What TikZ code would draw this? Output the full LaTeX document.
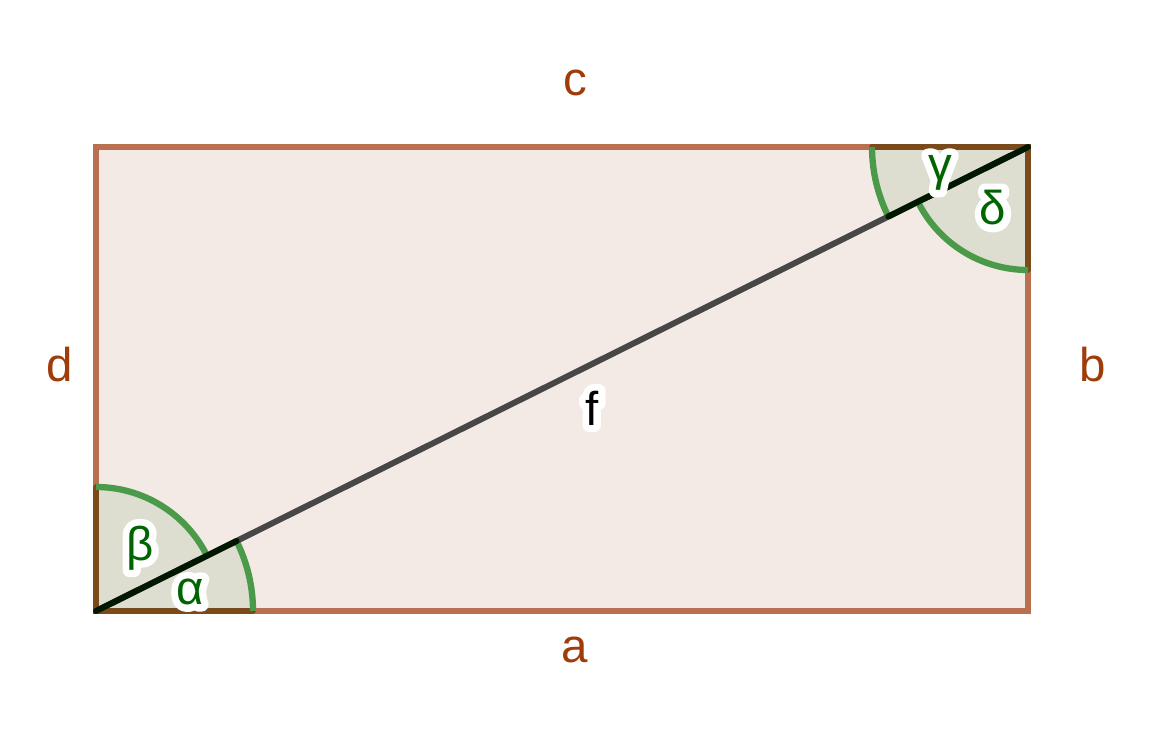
\documentclass[tikz,border=0pt]{standalone}
\usepackage{fontspec}
\setmainfont{Liberation Sans}
\usepackage{tikz}
\usetikzlibrary{calc,positioning}
\newcommand\halotext[1]{\special{pdf:literal direct q 1 Tr 4 w 1 j 1 1 1 RG}\rlap{#1}\special{pdf:literal direct Q}#1}
\definecolor{edgebrown}{RGB}{184,112,80}
\definecolor{rectfill}{RGB}{243,234,229}
\definecolor{sectfill}{RGB}{221,221,208}
\definecolor{arcgreen}{RGB}{74,154,74}
\definecolor{darkedge}{RGB}{122,74,26}
\definecolor{labbrown}{RGB}{160,60,10}
\definecolor{laggreen}{RGB}{0,100,0}
\tikzset{
  side/.style={line width=1.6pt,draw=edgebrown,line cap=round},
  sidedark/.style={line width=1.6pt,draw=darkedge,line cap=round},
  sector/.style={fill=sectfill},
  anglearc/.style={line width=1.8pt,draw=arcgreen},
  diag/.style={line width=1.7pt,draw=black!72,line cap=round},
  diagdark/.style={line width=1.7pt,draw=black!85!green!60!black,line cap=round},
  sidelab/.style={text=labbrown,font=\fontsize{13.5}{15}\selectfont},
  anglab/.style={text=laggreen,font=\fontsize{13.5}{15}\selectfont}
}
\begin{document}
\begin{tikzpicture}
\useasboundingbox (0,0) rectangle (11.72,7.33);
\coordinate (A) at (0.96,1.22);
\coordinate (B) at (10.28,1.22);
\coordinate (C) at (10.28,5.86);
\coordinate (D) at (0.96,5.86);
\fill[rectfill] (A) rectangle (C);
% angle sectors
\fill[sector] (A) -- ++(0:1.57) arc (0:26.47:1.57) -- cycle;
\fill[sector] (A) -- ++(26.47:1.24) arc (26.47:90:1.24) -- cycle;
\fill[sector] (C) -- ++(180:1.56) arc (180:206.47:1.56) -- cycle;
\fill[sector] (C) -- ++(206.47:1.23) arc (206.47:270:1.23) -- cycle;
% sides
\draw[side] (A) -- (B) -- (C) -- (D) -- cycle;
\draw[sidedark] ($(A)+(1.57,0)$) -- (A) -- ($(A)+(0,1.24)$);
\draw[sidedark] ($(C)+(-1.56,0)$) -- (C) -- ($(C)+(0,-1.23)$);
\draw[anglearc] ($(A)+(0:1.57)$) arc (0:26.47:1.57);
\draw[anglearc] ($(A)+(26.47:1.24)$) arc (26.47:90:1.24);
\draw[anglearc] ($(C)+(180:1.56)$) arc (180:206.47:1.56);
\draw[anglearc] ($(C)+(206.47:1.23)$) arc (206.47:270:1.23);
% diagonal
\draw[diag] (A) -- (C);
\draw[diagdark] (A) -- ($(A)+(26.47:1.57)$);
\draw[diagdark] (C) -- ($(C)+(206.47:1.56)$);
% labels
\node[sidelab] (la) at (5.75,0.83) {a};
\node[sidelab] (lb) at (10.93,3.68) {b};
\node[sidelab] (lc) at (5.75,6.50) {c};
\node[sidelab] (ld) at (0.60,3.68) {d};
\node[font=\fontsize{13.5}{15}\selectfont] (lf) at (5.92,3.25) {\halotext{f}};
\node[anglab] (lalpha) at (1.90,1.41) {\halotext{α}};
\node[anglab] (lbeta) at (1.40,1.85) {\halotext{β}};
\node[anglab] (lgamma) at (9.40,5.60) {\halotext{γ}};
\node[anglab] (ldelta) at (9.93,5.25) {\halotext{δ}};
\end{tikzpicture}
\end{document}
